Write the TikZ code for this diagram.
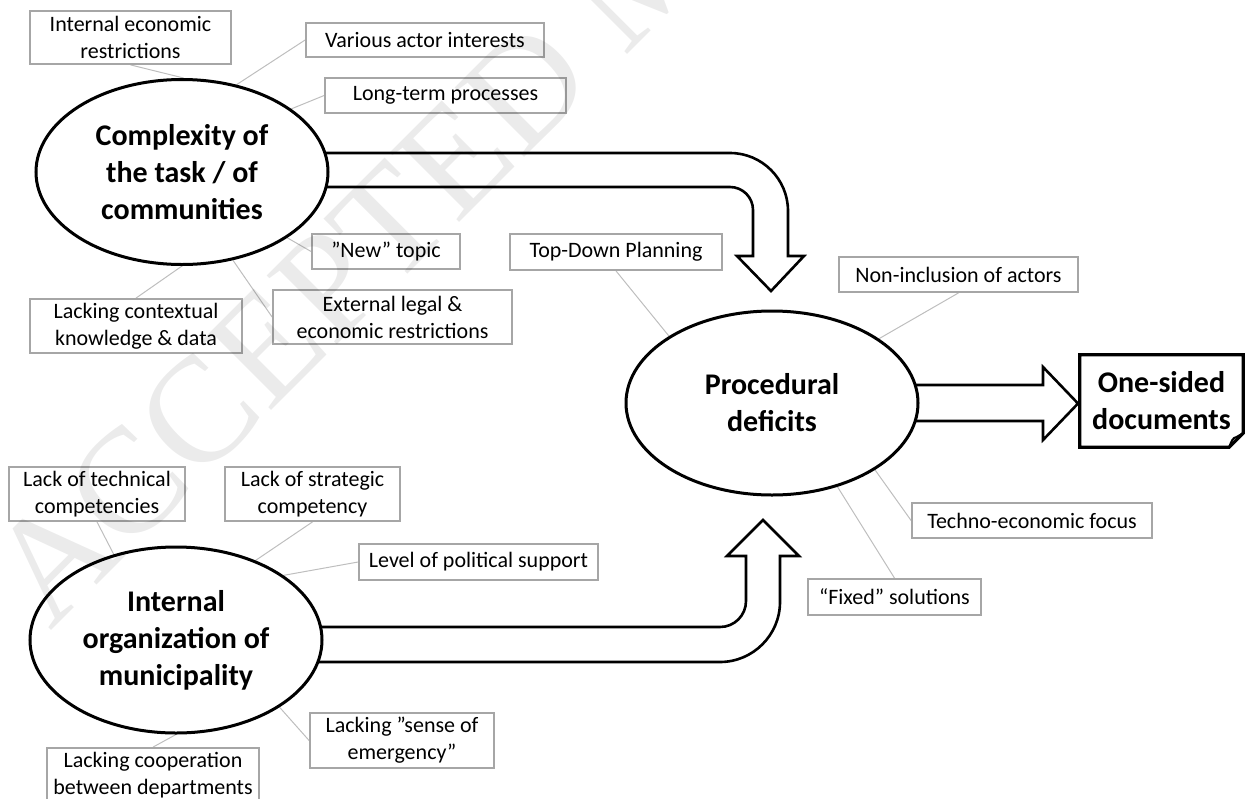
\documentclass[tikz,border=0pt]{standalone}
\usepackage{fontspec}
\setmainfont{Carlito}
\newfontfamily\markfont{Liberation Serif}
\usetikzlibrary{shapes.geometric,calc,backgrounds}

\definecolor{boxgray}{RGB}{166,166,166}
\definecolor{linkgray}{RGB}{190,190,190}

\tikzset{
  tag/.style={draw=boxgray, line width=1.8pt, fill=white, inner sep=0pt,
    align=center, font=\fontsize{22}{27}\selectfont},
  topic/.style={ellipse, draw=black, line width=3pt, fill=white, inner sep=0pt,
    align=center, font=\bfseries\fontsize{30}{37}\selectfont},
  link/.style={draw=linkgray, line width=1pt},
  blockarrow/.style={draw=black, line width=2.6pt, fill=white, line join=miter}
}

\begin{document}
\begin{tikzpicture}[x=1pt,y=-1pt]
\useasboundingbox (0,0) rectangle (1245,798);

% main topics
\node[topic, minimum width=292pt, minimum height=185pt] (e1) at (182,172)
  {Complexity of\\the task / of\\communities};
\node[topic, minimum width=292pt, minimum height=184pt] (e2) at (772,403)
  {Procedural\\deficits};
\node[topic, minimum width=292pt, minimum height=186pt] (e3) at (176,640)
  {Internal\\organization of\\municipality};

% outcome with folded corner
\node[inner sep=0pt, minimum width=163pt, minimum height=92pt, align=center,
  font=\bfseries\fontsize{30}{37}\selectfont] (od) at (1161.5,401)
  {One-sided\\documents};
\draw[line width=3.2pt, line join=miter]
  (od.north west) -- (od.north east) -- ($(od.south east)+(0,-14)$)
  -- ($(od.south east)+(-14,0)$) -- (od.south west) -- cycle;
\draw[line width=2pt]
  ($(od.south east)+(-14,0)$) .. controls ($(od.south east)+(-12,-6)$) and ($(od.south east)+(-10,-10)$) ..
  ($(od.south east)+(-7,-10)$) -- ($(od.south east)+(0,-14)$);

% block arrows, behind the topic ellipses
\begin{scope}[on background layer]
\draw[blockarrow]
  (200,153) -- (730,153) .. controls (762,153) and (788,179) .. (788,211)
  -- (788,256) -- (804,256) -- (771,291) -- (737,256) -- (753,256)
  -- (753,210) .. controls (753,197.3) and (742.7,187) .. (730,187)
  -- (200,187) -- cycle;
\draw[blockarrow]
  (200,627) -- (720,627) .. controls (734.4,627) and (746,615.4) .. (746,601)
  -- (746,556) -- (727,556) -- (763,520) -- (799,556) -- (780,556)
  -- (780,602) .. controls (780,635) and (753,662) .. (720,662)
  -- (200,662) -- cycle;
\draw[blockarrow]
  (850,385) -- (1043,385) -- (1043,367) -- (1078,403.5) -- (1043,440)
  -- (1043,421) -- (850,421) -- cycle;
\end{scope}

% factors around the complexity topic
\node[tag, minimum width=201pt, minimum height=53pt] (ier) at (130.5,37.5) {Internal economic\\restrictions};
\node[tag, minimum width=238pt, minimum height=34pt] (vai) at (425,40) {Various actor interests};
\node[tag, minimum width=241pt, minimum height=35pt] (ltp) at (445.5,95.5) {Long-term processes};
\node[tag, minimum width=148pt, minimum height=35pt] (new) at (386,251.5) {”New” topic};
\node[tag, minimum width=212pt, minimum height=54pt] (lck) at (136,326) {Lacking contextual\\knowledge \& data};
\node[tag, minimum width=239pt, minimum height=54pt] (ext) at (392.5,317) {External legal \&\\economic restrictions};

% factors around the procedural topic
\node[tag, minimum width=212pt, minimum height=36pt] (tdp) at (616,252) {Top-Down Planning};
\node[tag, minimum width=239pt, minimum height=35pt] (non) at (958.5,274.5) {Non-inclusion of actors};
\node[tag, minimum width=240pt, minimum height=35pt] (tef) at (1032,520.5) {Techno-economic focus};
\node[tag, minimum width=173pt, minimum height=36pt] (fix) at (894.5,597) {“Fixed” solutions};

% factors around the organization topic
\node[tag, minimum width=176pt, minimum height=54pt] (ltc) at (97,494) {Lack of technical\\competencies};
\node[tag, minimum width=175pt, minimum height=54pt] (lsc) at (312.5,494) {Lack of strategic\\competency};
\node[tag, minimum width=239pt, minimum height=36pt] (lps) at (478.5,562) {Level of political support};
\node[tag, minimum width=184pt, minimum height=55pt] (lse) at (402,740.5) {Lacking ”sense of\\emergency”};
\node[tag, minimum width=212pt, minimum height=54pt] (lcb) at (153,775) {Lacking cooperation\\between departments};

% thin links from factors to topics
\begin{scope}[on background layer]
\draw[link] (ier.south) -- (e1.89);
\draw[link] (vai.west) -- (e1.58);
\draw[link] (ltp.west) -- (e1.30);
\draw[link] (new.west) -- (e1.-32);
\draw[link] (lck.north) -- (e1.south);
\draw[link] (ext.west) -- (e1.-60);
\draw[link] (tdp.south) -- (e2.147);
\draw[link] (non.south) -- (e2.31);
\draw[link] (tef.west) -- (e2.-33);
\draw[link] (fix.north) -- (e2.-52);
\draw[link] (ltc.south) -- (e3.126);
\draw[link] (lsc.south) -- (e3.45);
\draw[link] (lps.west) -- (e3.31);
\draw[link] (lse.west) -- (e3.-33);
\draw[link] (lcb.north) -- (e3.south);
\end{scope}

% publisher stamp across the sheet
\node[rotate=45, anchor=base west, inner sep=0pt, text=black, opacity=0.08,
  font=\markfont\fontsize{150}{150}\selectfont] (stamp) at (50,632) {ACCEPTED MANUSCRIPT};
\end{tikzpicture}
\end{document}
